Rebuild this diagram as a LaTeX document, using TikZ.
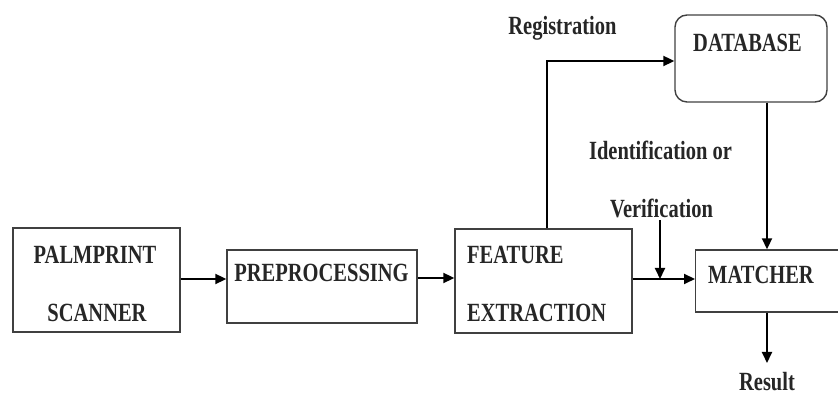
\documentclass[tikz,border=0pt]{standalone}
\usepackage{fontspec}
\setmainfont{Liberation Serif}
\usetikzlibrary{arrows.meta}
\newcommand{\tallt}[1]{\scalebox{1}[1.28]{#1}}
\begin{document}
\begin{tikzpicture}[x=1pt,y=1pt,
  box/.style={draw=black!75,line width=1.4pt,inner sep=0pt},
  lbl/.style={font=\fontsize{20.5}{20.5}\selectfont\bfseries,inner sep=0pt,text=black!85},
  conn/.style={line width=2pt,-{Triangle[length=11pt,width=10pt]}},
  plain/.style={line width=2pt}]
\clip (0,0) rectangle (838,398);
\useasboundingbox (0,0) rectangle (838,398);
% boxes
\node[box,minimum width=167,minimum height=104] (scan) at (96.5,118) {};
\node[box,minimum width=190,minimum height=73] (pre) at (322,111.5) {};
\node[box,minimum width=177,minimum height=104] (feat) at (543.5,117) {};
\node[box,minimum width=160,minimum height=62,anchor=west] (match) at (695,117) {};
\node[box,rounded corners=12pt,minimum width=152,minimum height=87] (db) at (751,339.5) {};
% texts
\node[lbl] (t1) at (95,143) {\tallt{PALMPRINT}};
\node[lbl] (t2) at (97,85) {\tallt{SCANNER}};
\node[lbl] (t3) at (321.5,125) {\tallt{PREPROCESSING}};
\node[lbl,anchor=west] (t4) at (467,143) {\tallt{FEATURE}};
\node[lbl,anchor=west] (t5) at (467,85) {\tallt{EXTRACTION}};
\node[lbl,anchor=west] (t6) at (708,123) {\tallt{MATCHER}};
\node[lbl] (t7) at (747.5,355) {\tallt{DATABASE}};
\node[lbl] (reg) at (562.5,370) {\tallt{Registration}};
\node[lbl] (idf) at (660.5,248) {\tallt{Identification or}};
\node[lbl] (ver) at (661.5,190) {\tallt{Verification}};
\node[lbl,anchor=south] (res) at (767,7) {\tallt{Result}};
% connectors
\draw[conn] (scan.east |- 0,119) -- (pre.west |- 0,119);
\draw[conn] (pre.east |- 0,120) -- (feat.west |- 0,120);
\draw[conn] (feat.east |- 0,119) -- (match.west |- 0,119);
\coordinate (vtop) at (660,178);
\draw[conn] (vtop) -- (660,119);
\draw[conn] (feat.north -| 547,0) -- (547,337) -- (db.west |- 0,337);
\draw[conn] (db.south -| 767,0) -- (match.north -| 767,0);
\coordinate (rend) at (767,35);
\draw[conn] (match.south -| 767,0) -- (rend);
\end{tikzpicture}
\end{document}
